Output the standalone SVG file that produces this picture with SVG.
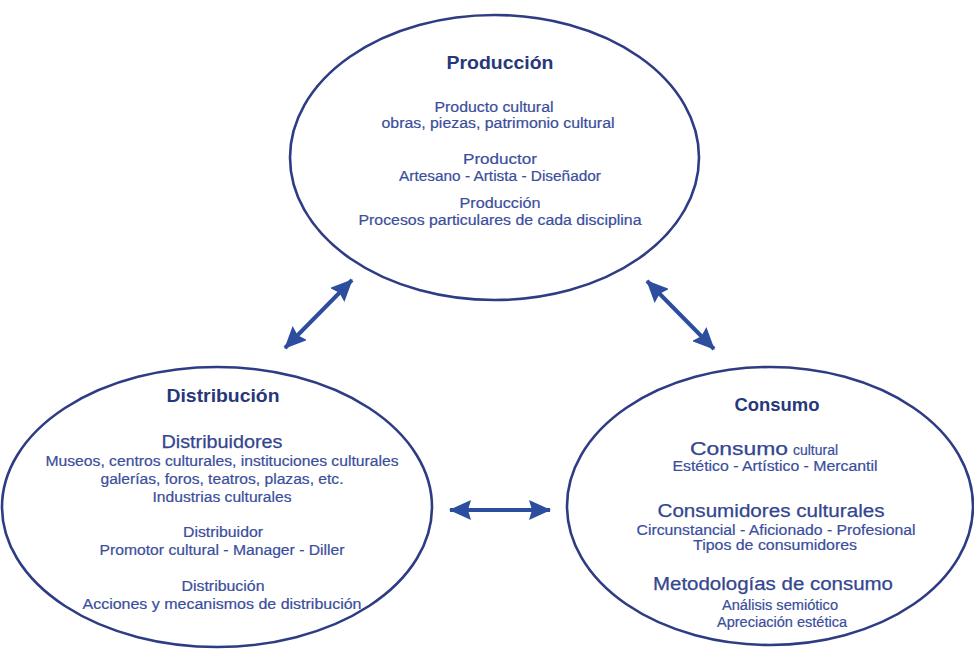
<svg xmlns="http://www.w3.org/2000/svg" width="974" height="649" viewBox="0 0 974 649">
  <style>
    .ell { fill: none; stroke: #2e3c84; stroke-width: 2.6; }
    text { font-family: "Liberation Sans", Arial, sans-serif; text-anchor: middle; }
    .title { font-weight: bold; font-size: 19px; fill: #27377a; }
    .sub { font-size: 18px; fill: #33468f; stroke: #33468f; stroke-width: 0.25; }
    .sub2 { font-size: 15.5px; fill: #3a4e9c; stroke: #3a4e9c; stroke-width: 0.2; }
    .det { font-size: 14px; fill: #3a4e9c; stroke: #3a4e9c; stroke-width: 0.2; }
    .arrow { stroke: #2d4e9e; stroke-width: 4; fill: none; marker-start: url(#ah); marker-end: url(#ah); }
  </style>
  <defs>
    <marker id="ah" markerUnits="userSpaceOnUse" markerWidth="22" markerHeight="20" refX="21" refY="10" orient="auto-start-reverse" viewBox="0 0 22 20">
      <path d="M0,0 L22,10 L0,20 L3,10 z" fill="#2d4e9e"/>
    </marker>
  </defs>
  <rect width="974" height="649" fill="#ffffff"/>

  <g id="produccion">
    <ellipse class="ell" cx="494.5" cy="157.5" rx="204.5" ry="142.5"/>
    <text class="title" x="500" y="69" textLength="107" lengthAdjust="spacingAndGlyphs">Producción</text>
    <text class="sub2" x="494" y="112" textLength="119" lengthAdjust="spacingAndGlyphs">Producto cultural</text>
    <text class="det" x="498" y="128" textLength="233" lengthAdjust="spacingAndGlyphs">obras, piezas, patrimonio cultural</text>
    <text class="sub2" x="500" y="164" textLength="74" lengthAdjust="spacingAndGlyphs">Productor</text>
    <text class="det" x="500" y="181" textLength="202" lengthAdjust="spacingAndGlyphs">Artesano - Artista - Diseñador</text>
    <text class="sub2" x="500" y="208" textLength="81" lengthAdjust="spacingAndGlyphs">Producción</text>
    <text class="det" x="500" y="225" textLength="283" lengthAdjust="spacingAndGlyphs">Procesos particulares de cada disciplina</text>
  </g>

  <g id="distribucion">
    <ellipse class="ell" cx="217" cy="507" rx="215" ry="140"/>
    <text class="title" x="223" y="402" textLength="113" lengthAdjust="spacingAndGlyphs">Distribución</text>
    <text class="sub" x="222" y="448" textLength="121" lengthAdjust="spacingAndGlyphs">Distribuidores</text>
    <text class="det" x="222" y="466" textLength="353" lengthAdjust="spacingAndGlyphs">Museos, centros culturales, instituciones culturales</text>
    <text class="det" x="222" y="484" textLength="243" lengthAdjust="spacingAndGlyphs">galerías, foros, teatros, plazas, etc.</text>
    <text class="det" x="222" y="502" textLength="139" lengthAdjust="spacingAndGlyphs">Industrias culturales</text>
    <text class="det" x="223" y="537" textLength="80" lengthAdjust="spacingAndGlyphs">Distribuidor</text>
    <text class="det" x="222" y="555" textLength="245" lengthAdjust="spacingAndGlyphs">Promotor cultural - Manager - Diller</text>
    <text class="det" x="223" y="591" textLength="83" lengthAdjust="spacingAndGlyphs">Distribución</text>
    <text class="det" x="222" y="609" textLength="279" lengthAdjust="spacingAndGlyphs">Acciones  y mecanismos de distribución</text>
  </g>

  <g id="consumo">
    <ellipse class="ell" cx="770" cy="506" rx="203" ry="139"/>
    <text class="title" x="777" y="411" textLength="85" lengthAdjust="spacingAndGlyphs">Consumo</text>
    <text style="text-anchor:start"><tspan class="sub" x="690" y="455" textLength="98" lengthAdjust="spacingAndGlyphs">Consumo</tspan><tspan class="det" x="793" y="455" textLength="45" lengthAdjust="spacingAndGlyphs">cultural</tspan></text>
    <text class="det" x="775" y="471" textLength="205" lengthAdjust="spacingAndGlyphs">Estético - Artístico - Mercantil</text>
    <text class="sub" x="771" y="517" textLength="227" lengthAdjust="spacingAndGlyphs">Consumidores culturales</text>
    <text class="det" x="776" y="535" textLength="279" lengthAdjust="spacingAndGlyphs">Circunstancial - Aficionado - Profesional</text>
    <text class="det" x="775" y="550" textLength="164" lengthAdjust="spacingAndGlyphs">Tipos de consumidores</text>
    <text class="sub" x="773" y="590" textLength="240" lengthAdjust="spacingAndGlyphs">Metodologías de consumo</text>
    <text class="det" x="780" y="610" textLength="116" lengthAdjust="spacingAndGlyphs">Análisis semiótico</text>
    <text class="det" x="782" y="627" textLength="130" lengthAdjust="spacingAndGlyphs">Apreciación estética</text>
  </g>

  <g id="connectors">
    <line class="arrow" x1="285" y1="348" x2="352" y2="280"/>
    <line class="arrow" x1="647" y1="281" x2="714" y2="349"/>
    <line class="arrow" x1="450" y1="510" x2="550" y2="510"/>
  </g>
</svg>
